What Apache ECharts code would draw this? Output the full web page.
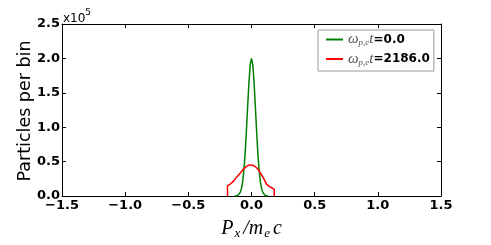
<!DOCTYPE html>
<html><head><meta charset="utf-8">
<script src="https://cdn.jsdelivr.net/npm/echarts@6/dist/echarts.min.js"></script>
<style>html,body{margin:0;padding:0;background:#fff}#c{width:491px;height:245px}</style>
</head><body><div id="c"></div>
<script>
// x in P_x/m_e c, y in units of 1e5 particles per bin
var greenX = [-0.13,-0.12,-0.11,-0.10,-0.09,-0.08,-0.07,-0.06,-0.05,-0.04,-0.03,-0.02,-0.01,0.00,0.01,0.02,0.03,0.04,0.05,0.06,0.07,0.08,0.09,0.10,0.11,0.12,0.13];
var greenY = [0,0,0.008,0.02,0.049,0.106,0.21,0.38,0.63,0.96,1.32,1.66,1.91,2.0,1.91,1.66,1.32,0.96,0.63,0.38,0.21,0.106,0.049,0.02,0.008,0,0];
var redX = [-0.19,-0.19,-0.17,-0.14,-0.12,-0.09,-0.065,-0.04,-0.02,0.00,0.02,0.04,0.055,0.075,0.095,0.12,0.14,0.16,0.18,0.18];
var redY = [0,0.15,0.17,0.22,0.27,0.33,0.39,0.43,0.45,0.45,0.44,0.41,0.38,0.32,0.26,0.17,0.14,0.12,0.095,0];
var seriesNames = ['0.0','2186.0'];
var xTicks = [-1.5,1.5,0.5];
var yTicks = [0,2.5,0.5];

function pairs(xs, ys){ return xs.map(function(x,i){return [x, ys[i]];}); }
var chart = echarts.init(document.getElementById('c'), null, {renderer:'canvas'});
var tickFont = {fontFamily:'DejaVu Sans', fontWeight:'bold', fontSize:13, color:'#000'};
var option = {
  animation:false,
  backgroundColor:'#fff',
  grid:{left:62, right:50, top:24, bottom:45, show:false},
  xAxis:[{
    type:'value', min:xTicks[0], max:xTicks[1], interval:xTicks[2], position:'bottom',
    axisLine:{show:true, onZero:false, lineStyle:{color:'#000', width:1}},
    axisTick:{show:true, inside:true, length:4, lineStyle:{color:'#000'}},
    splitLine:{show:false},
    axisLabel:Object.assign({margin:3, formatter:function(v){return (v<0?'\u2212':'')+Math.abs(v).toFixed(1);}}, tickFont),
    name:'{p|P}{sub|x}{p|/m}{sub|e}{p|c}', nameLocation:'middle', nameGap:22,
    nameTextStyle:{rich:{
      p:{fontFamily:'Liberation Serif', fontStyle:'italic', fontSize:20, color:'#000', lineHeight:22, padding:[0,1,0,1]},
      sub:{fontFamily:'Liberation Serif', fontStyle:'italic', fontSize:13, color:'#000', verticalAlign:'bottom', lineHeight:16, padding:[0,2,0,0]}
    }}
  },{
    type:'value', min:xTicks[0], max:xTicks[1], interval:xTicks[2], position:'top',
    axisLine:{show:true, onZero:false, lineStyle:{color:'#000', width:1}},
    axisTick:{show:true, inside:true, length:4, lineStyle:{color:'#000'}},
    splitLine:{show:false}, axisLabel:{show:false}
  }],
  yAxis:[{
    type:'value', min:yTicks[0], max:yTicks[1], interval:yTicks[2], position:'left',
    axisLine:{show:true, onZero:false, lineStyle:{color:'#000', width:1}},
    axisTick:{show:true, inside:true, length:4, lineStyle:{color:'#000'}},
    splitLine:{show:false},
    axisLabel:Object.assign({margin:2, formatter:function(v){return v.toFixed(1);}}, tickFont)
  },{
    type:'value', min:yTicks[0], max:yTicks[1], interval:yTicks[2], position:'right',
    axisLine:{show:true, onZero:false, lineStyle:{color:'#000', width:1}},
    axisTick:{show:true, inside:true, length:4, lineStyle:{color:'#000'}},
    splitLine:{show:false}, axisLabel:{show:false}
  }],
  legend:{
    show:true, orient:'vertical', left:318, top:30,
    backgroundColor:'#fff', borderColor:'#999', borderWidth:1, borderRadius:0,
    padding:[2,4,4,8], itemGap:4, itemWidth:17, itemHeight:2, icon:'rect',
    data:seriesNames,
    formatter:function(n){ return '{w|\u03c9}{s|p,e}{w|t}{b|=' + n + '}'; },
    textStyle:{rich:{
      w:{fontFamily:'Liberation Serif', fontStyle:'italic', fontSize:15, color:'#555', lineHeight:16, padding:[0,0,0,0]},
      s:{fontFamily:'Liberation Serif', fontStyle:'italic', fontSize:9, color:'#555', verticalAlign:'bottom', lineHeight:16},
      b:{fontFamily:'DejaVu Sans', fontWeight:'bold', fontSize:12, color:'#000', lineHeight:16}
    }}
  },
  graphic:[{
    type:'text', left:63, top:8,
    style:{text:'{a|x10}{e|5}', rich:{
      a:{fontFamily:'DejaVu Sans', fontSize:12, fill:'#000', verticalAlign:'bottom', lineHeight:17},
      e:{fontFamily:'DejaVu Sans', fontSize:9, fill:'#000', verticalAlign:'top', lineHeight:17}
    }}
  },{
    type:'text', x:25, y:111, rotation:Math.PI/2,
    style:{text:'Particles per bin', fontFamily:'DejaVu Sans', fontSize:17.5, fill:'#000', align:'center', verticalAlign:'middle'}
  }],
  series:[{
    name:seriesNames[0], type:'line', xAxisIndex:0, yAxisIndex:0,
    data:pairs(greenX, greenY), showSymbol:false, symbol:'none', smooth:false,
    lineStyle:{color:'#008000', width:1.5}, itemStyle:{color:'#008000'}
  },{
    name:seriesNames[1], type:'line', xAxisIndex:0, yAxisIndex:0,
    data:pairs(redX, redY), showSymbol:false, symbol:'none', smooth:false,
    lineStyle:{color:'#ff0000', width:1.5}, itemStyle:{color:'#ff0000'}
  }]
};
chart.setOption(option);
</script>
</body></html>
